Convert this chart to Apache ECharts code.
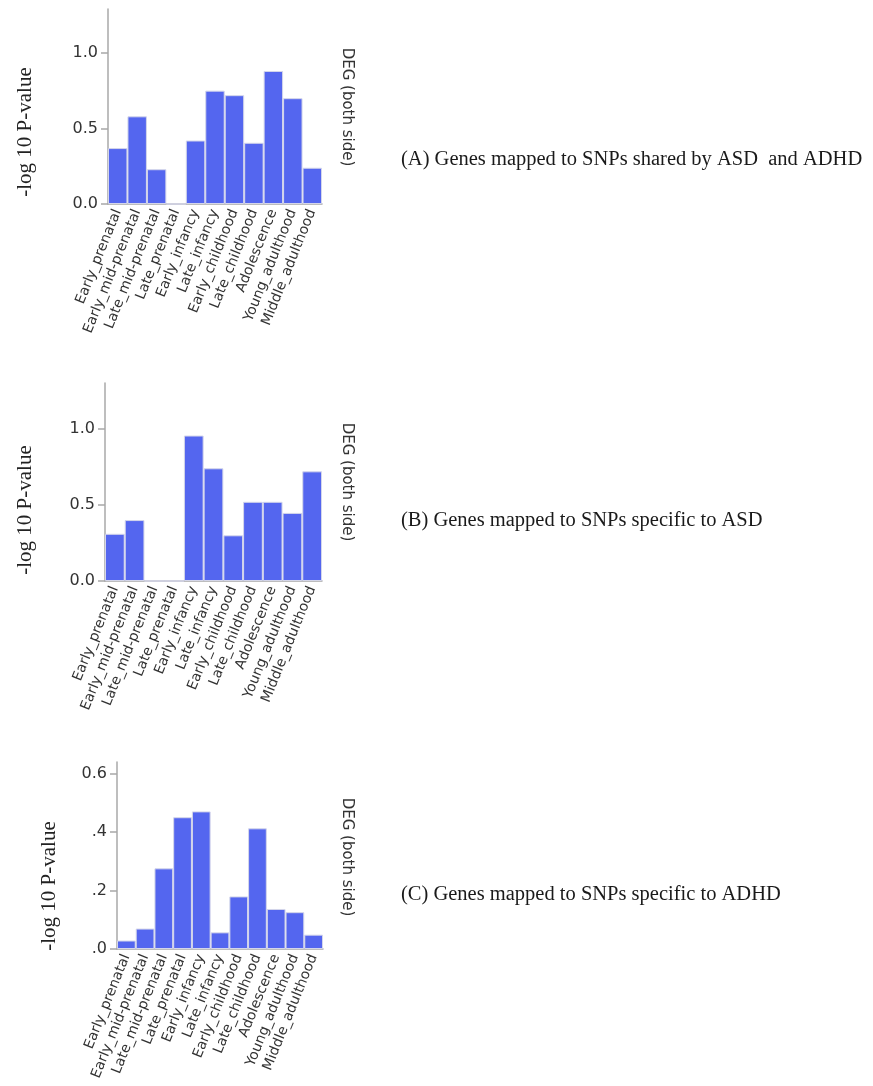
<!DOCTYPE html>
<html>
<head>
<meta charset="utf-8">
<script src="https://cdn.jsdelivr.net/npm/echarts@6/dist/echarts.min.js"></script>
<style>
html,body{margin:0;padding:0;background:#fff;}
#chart{width:873px;height:1086px;}
</style>
</head>
<body>
<div id="chart"></div>
<script>
const categories = ['Early_prenatal','Early_mid-prenatal','Late_mid-prenatal','Late_prenatal','Early_infancy','Late_infancy','Early_childhood','Late_childhood','Adolescence','Young_adulthood','Middle_adulthood'];
const valuesA = [0.37, 0.58, 0.23, 0, 0.42, 0.75, 0.72, 0.405, 0.88, 0.70, 0.24];
const valuesB = [0.31, 0.40, 0, 0, 0.955, 0.74, 0.30, 0.52, 0.52, 0.447, 0.72];
const valuesC = [0.029, 0.07, 0.276, 0.451, 0.471, 0.057, 0.18, 0.413, 0.137, 0.126, 0.049];
const ticksAB = ['0.0', '0.5', '1.0'];
const ticksC = ['.0', '.2', '.4', '0.6'];
const captions = ['(A) Genes mapped to SNPs shared by ASD  and ADHD', '(B) Genes mapped to SNPs specific to ASD', '(C) Genes mapped to SNPs specific to ADHD'];
const yName = '-log 10 P-value';
const sideName = 'DEG (both side)';

const panels = [
  {values: valuesA, ticks: ticksAB, max: 1.29, interval: 0.5, grid: {left: 108, top: 9, width: 214, height: 195},
   yNamePos: [25, 132], sidePos: [347, 107], capY: 160},
  {values: valuesB, ticks: ticksAB, max: 1.30, interval: 0.5, grid: {left: 105, top: 383, width: 217, height: 198},
   yNamePos: [25, 510], sidePos: [347, 482], capY: 521},
  {values: valuesC, ticks: ticksC, max: 0.64, interval: 0.2, grid: {left: 117, top: 762, width: 206, height: 187},
   yNamePos: [49, 886], sidePos: [347, 857], capY: 895}
];

const axisColor = '#a8a8a8';
const grids = [], xAxes = [], yAxes = [], series = [], graphics = [];
panels.forEach((p, i) => {
  grids.push(Object.assign({containLabel: false}, p.grid));
  xAxes.push({
    type: 'category', gridIndex: i, data: categories,
    axisLine: {lineStyle: {color: axisColor, width: 1.5}},
    axisTick: {alignWithLabel: true, length: 5, lineStyle: {color: axisColor, width: 1.5}},
    axisLabel: {rotate: 68, interval: 0, margin: 6, fontSize: 14, fontFamily: 'DejaVu Sans', color: '#333'}
  });
  yAxes.push({
    type: 'value', gridIndex: i, min: 0, max: p.max, interval: p.interval,
    splitLine: {show: false},
    axisLine: {show: true, lineStyle: {color: axisColor, width: 1.5}},
    axisTick: {show: true, length: 7, lineStyle: {color: axisColor, width: 1.5}},
    axisLabel: {showMaxLabel: false, margin: 10, fontSize: 16, fontFamily: 'DejaVu Sans', color: '#333',
      formatter: (v) => { const k = Math.round(v / p.interval); return p.ticks[k] !== undefined ? p.ticks[k] : ''; }}
  });
  series.push({
    type: 'bar', xAxisIndex: i, yAxisIndex: i, data: p.values,
    barCategoryGap: '0%',
    itemStyle: {color: '#5466ef', borderColor: '#d4d6ea', borderWidth: 1},
    silent: true
  });
  graphics.push({type: 'text', x: p.yNamePos[0], y: p.yNamePos[1], rotation: Math.PI / 2,
    style: {text: yName, font: '21px "Liberation Serif"', fill: '#222', textAlign: 'center', textVerticalAlign: 'middle'}});
  graphics.push({type: 'text', x: p.sidePos[0], y: p.sidePos[1], rotation: -Math.PI / 2,
    style: {text: sideName, font: '15px "DejaVu Sans"', fill: '#333', textAlign: 'center', textVerticalAlign: 'middle'}});
  graphics.push({type: 'text', x: 401, y: p.capY,
    style: {text: captions[i], font: '20.5px "Liberation Serif"', fill: '#1a1a1a', textAlign: 'left', textVerticalAlign: 'middle'}});
});

const chart = echarts.init(document.getElementById('chart'), null, {renderer: 'canvas'});
chart.setOption({
  animation: false,
  backgroundColor: '#fff',
  grid: grids, xAxis: xAxes, yAxis: yAxes, series: series, graphic: graphics
});
</script>
</body>
</html>
